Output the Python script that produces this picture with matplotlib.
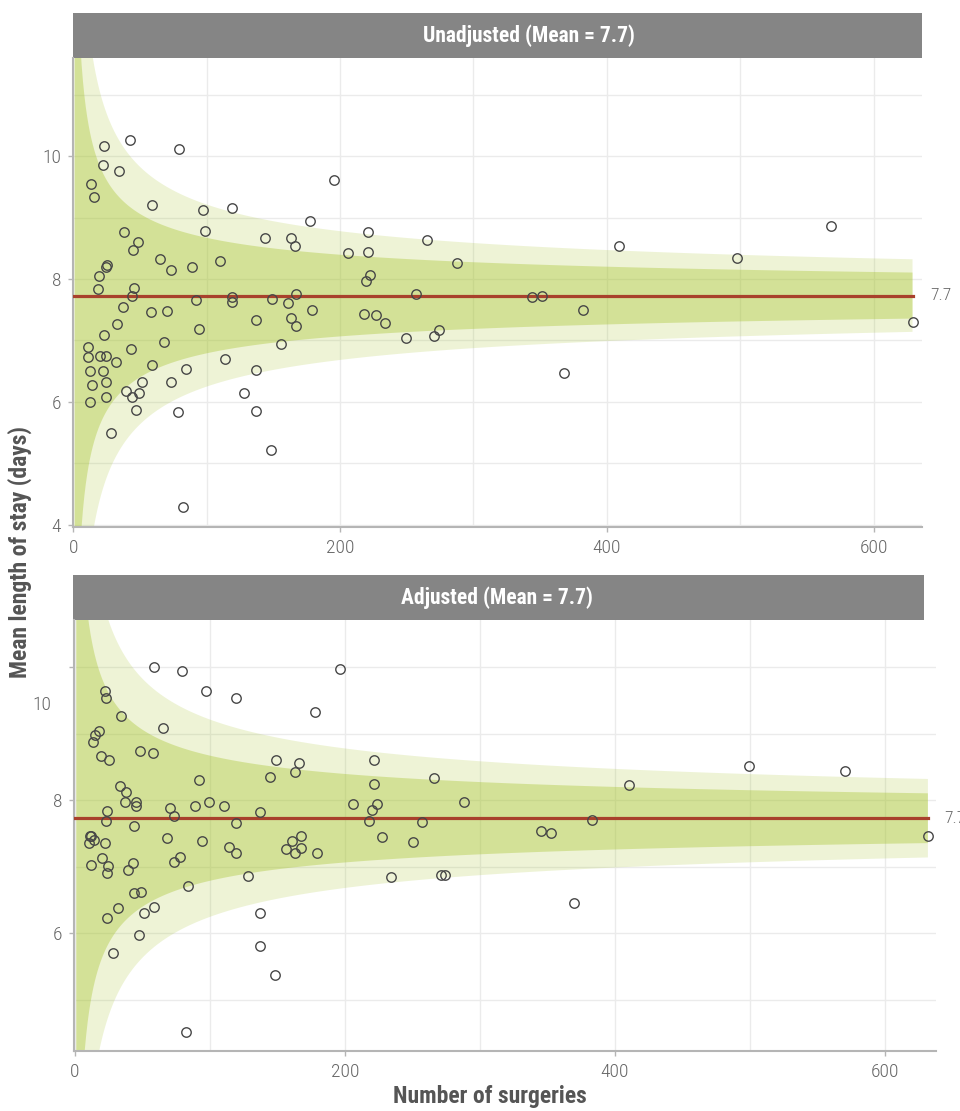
import matplotlib
matplotlib.use("Agg")
import matplotlib.pyplot as plt
import matplotlib.transforms as mtransforms
import numpy as np

plt.rcParams["font.family"] = ["Roboto Condensed", "Liberation Sans Narrow", "Roboto", "DejaVu Sans"]

# funnel limits: overall mean, spread per surgery, 95% and 99.8% multipliers
MEAN = 7.73
SD = 4.8
Z_INNER, Z_OUTER = 1.96, 3.09

# unadjusted: number of surgeries and mean length of stay per hospital
unadj_n = [23.2, 42.3, 79.2, 22.3, 34.3, 13.3, 15.5, 195.7, 59.0, 97.0,
           119.0, 38.2, 48.3, 45.0, 98.9, 177.7, 143.9, 163.0, 166.0, 220.7,
           205.7, 220.7, 265.4, 65.2, 73.0, 89.0, 110.0, 25.3, 24.3, 19.3,
           287.4, 222.6, 219.4, 18.3, 45.3, 44.2, 37.3, 33.0, 92.2, 58.2,
           70.2, 94.0, 119.2, 119.0, 149.0, 160.7, 166.7, 163.0, 166.7, 136.7,
           178.7, 155.9, 256.7, 217.7, 226.7, 233.7, 249.4, 270.2, 273.9, 23.2,
           68.0, 11.2, 11.0, 20.0, 24.5, 43.3, 32.2, 12.3, 22.5, 24.3,
           14.2, 51.3, 59.0, 73.0, 84.3, 113.9, 136.7, 39.3, 44.2, 49.5,
           24.3, 12.3, 47.0, 78.3, 128.0, 136.7, 28.3, 148.0, 82.0, 343.9,
           351.2, 382.0, 368.1, 408.8, 497.6, 568.3, 629.1]
unadj_los = [10.17, 10.26, 10.12, 9.86, 9.76, 9.54, 9.33, 9.62, 9.20, 9.12,
             9.15, 8.76, 8.60, 8.48, 8.78, 8.95, 8.67, 8.66, 8.53, 8.77,
             8.43, 8.44, 8.63, 8.33, 8.15, 8.20, 8.30, 8.23, 8.20, 8.05,
             8.26, 8.07, 7.96, 7.83, 7.86, 7.72, 7.54, 7.27, 7.65, 7.46,
             7.48, 7.18, 7.71, 7.62, 7.68, 7.61, 7.75, 7.36, 7.23, 7.34,
             7.49, 6.94, 7.75, 7.43, 7.41, 7.29, 7.04, 7.07, 7.17, 7.08,
             6.97, 6.90, 6.73, 6.74, 6.75, 6.86, 6.65, 6.50, 6.50, 6.33,
             6.28, 6.33, 6.60, 6.32, 6.53, 6.69, 6.52, 6.17, 6.07, 6.14,
             6.08, 5.99, 5.87, 5.84, 6.15, 5.85, 5.49, 5.21, 4.29, 7.70,
             7.73, 7.49, 6.47, 8.54, 8.35, 8.87, 7.30]

# adjusted: same hospitals after case-mix adjustment
adj_n = [58.7, 79.0, 196.1, 97.3, 119.0, 22.2, 23.0, 178.0, 34.1, 65.0,
         18.0, 15.0, 13.1, 19.0, 25.0, 47.9, 58.0, 148.9, 166.1, 163.0,
         221.3, 144.2, 221.3, 265.9, 92.1, 33.1, 38.0, 37.0, 45.0, 45.0,
         23.7, 23.0, 43.9, 70.1, 73.1, 89.1, 99.0, 110.1, 119.0, 137.3,
         206.1, 223.5, 220.2, 218.0, 257.3, 288.4, 227.2, 250.1, 68.1, 94.1,
         11.1, 12.1, 14.1, 10.6, 22.0, 167.4, 161.0, 114.1, 119.0, 156.1,
         163.0, 167.2, 179.0, 20.2, 24.2, 23.9, 11.9, 43.0, 39.0, 73.1,
         78.0, 127.9, 234.1, 270.9, 274.3, 83.9, 43.7, 49.1, 31.9, 58.7,
         51.1, 23.7, 137.0, 47.2, 28.1, 137.0, 148.1, 82.0, 345.5, 352.4,
         383.0, 369.3, 410.3, 499.5, 570.4, 631.8]
adj_los = [10.00, 9.94, 9.98, 9.65, 9.53, 9.65, 9.53, 9.33, 9.27, 9.08,
           9.04, 8.98, 8.87, 8.66, 8.60, 8.74, 8.71, 8.60, 8.56, 8.43,
           8.60, 8.35, 8.25, 8.34, 8.31, 8.22, 8.13, 7.97, 7.97, 7.91,
           7.84, 7.69, 7.62, 7.88, 7.76, 7.92, 7.98, 7.91, 7.66, 7.82,
           7.94, 7.94, 7.85, 7.69, 7.67, 7.97, 7.45, 7.37, 7.43, 7.39,
           7.46, 7.46, 7.40, 7.36, 7.36, 7.46, 7.39, 7.29, 7.21, 7.26,
           7.21, 7.28, 7.21, 7.13, 7.01, 6.91, 7.03, 7.06, 6.95, 7.07,
           7.14, 6.86, 6.84, 6.87, 6.88, 6.71, 6.60, 6.62, 6.38, 6.39,
           6.31, 6.23, 6.30, 5.97, 5.70, 5.81, 5.38, 4.52, 7.54, 7.51,
           7.71, 6.45, 8.23, 8.52, 8.44, 7.46]

titles = ["Unadjusted (Mean = 7.7)", "Adjusted (Mean = 7.7)"]
xticks = [0, 200, 400, 600]

BAND = "#a5c328"
RED = "#a8412c"
GRID = "#ebebeb"
AXIS = "#b5b5b5"
TXT = "#666666"

W, H = 960, 1111
fig = plt.figure(figsize=(W / 100, H / 100), dpi=100)


def px_rect(left, top, right, bottom):
    return [left / W, 1 - bottom / H, (right - left) / W, (bottom - top) / H]


def panel(rect, strip, title, title_x, n, los, xlim, ylim, yticks, ygrid):
    sax = fig.add_axes(px_rect(*strip))
    sax.set_facecolor("#858585")
    sax.set_xticks([])
    sax.set_yticks([])
    for s in sax.spines.values():
        s.set_visible(False)
    tx = (title_x - strip[0]) / (strip[2] - strip[0])
    sax.text(tx, 0.5, title, transform=sax.transAxes, ha="center", va="center",
             color="white", fontsize=15.5, fontweight="bold")

    ax = fig.add_axes(px_rect(*rect))
    ax.set_axisbelow(True)
    nn = np.linspace(1, max(n), 600)
    half_in = Z_INNER * SD / np.sqrt(nn)
    half_out = Z_OUTER * SD / np.sqrt(nn)
    ax.fill_between(nn, MEAN - half_out, MEAN + half_out, color=BAND, alpha=0.19, lw=0)
    ax.fill_between(nn, MEAN - half_in, MEAN + half_in, color=BAND, alpha=0.36, lw=0)
    ax.plot([0, max(n)], [MEAN, MEAN], color=RED, lw=2.3, zorder=3)
    ax.plot(n, los, "o", ms=6.8, mfc="none", mec="#474747", mew=1.0, zorder=4)

    ax.set_xlim(*xlim)
    ax.set_ylim(*ylim)
    ax.set_xticks(xticks)
    ax.set_xticks(np.arange(0, 700, 100), minor=True)
    ax.set_yticks(yticks)
    ax.set_yticks(ygrid, minor=True)
    ax.grid(which="both", color=GRID, lw=1.0)
    ax.tick_params(which="major", length=3.5, width=1, color=AXIS, labelcolor=TXT,
                   labelsize=14, pad=5)
    ax.tick_params(which="minor", length=0)
    for lab in ax.get_xticklabels() + ax.get_yticklabels():
        lab.set_fontweight("light")
    for side in ("top", "right"):
        ax.spines[side].set_visible(False)
    for side in ("left", "bottom"):
        ax.spines[side].set_color(AXIS)
        ax.spines[side].set_linewidth(1.5)
    off = mtransforms.ScaledTranslation(8 / 100, 0, fig.dpi_scale_trans)
    tr = mtransforms.blended_transform_factory(ax.transAxes, ax.transData) + off
    ax.text(1, MEAN, f"{MEAN:.1f}", transform=tr, ha="left", va="center",
            color=TXT, fontsize=12.5, fontweight="light", clip_on=False)
    return ax


ax1 = panel((73, 58, 922, 527), (73, 13, 922, 58), titles[0], 529, unadj_n, unadj_los,
            (-0.2, 636.2), (3.96, 11.6), [4, 6, 8, 10], [5, 7, 9, 11])
ax2 = panel((74, 620, 936, 1051), (73, 575, 924, 620), titles[1], 497, adj_n, adj_los,
            (-0.7, 637.8), (4.23, 10.71), [6, 8, 10], [5, 7, 9])

# the "10" label of the lower panel sits below its tick in the original
ax2.set_yticklabels(["6", "8", ""])
for lab in ax2.get_yticklabels():
    lab.set_fontweight("light")
off10 = mtransforms.ScaledTranslation(-23 / 100, 0, fig.dpi_scale_trans)
tr10 = mtransforms.blended_transform_factory(ax2.transAxes, ax2.transData) + off10
ax2.text(0, 9.43, "10", transform=tr10, ha="right", va="center", color=TXT,
         fontsize=14, fontweight="light")

fig.text(20 / W, 1 - 552 / H, "Mean length of stay (days)", rotation=90, ha="center",
         va="center", fontsize=17, fontweight="bold", color="#555555")
fig.text(490 / W, 1 - 1097 / H, "Number of surgeries", ha="center", va="center",
         fontsize=17, fontweight="bold", color="#555555")

fig.savefig("out.png", dpi=100)
